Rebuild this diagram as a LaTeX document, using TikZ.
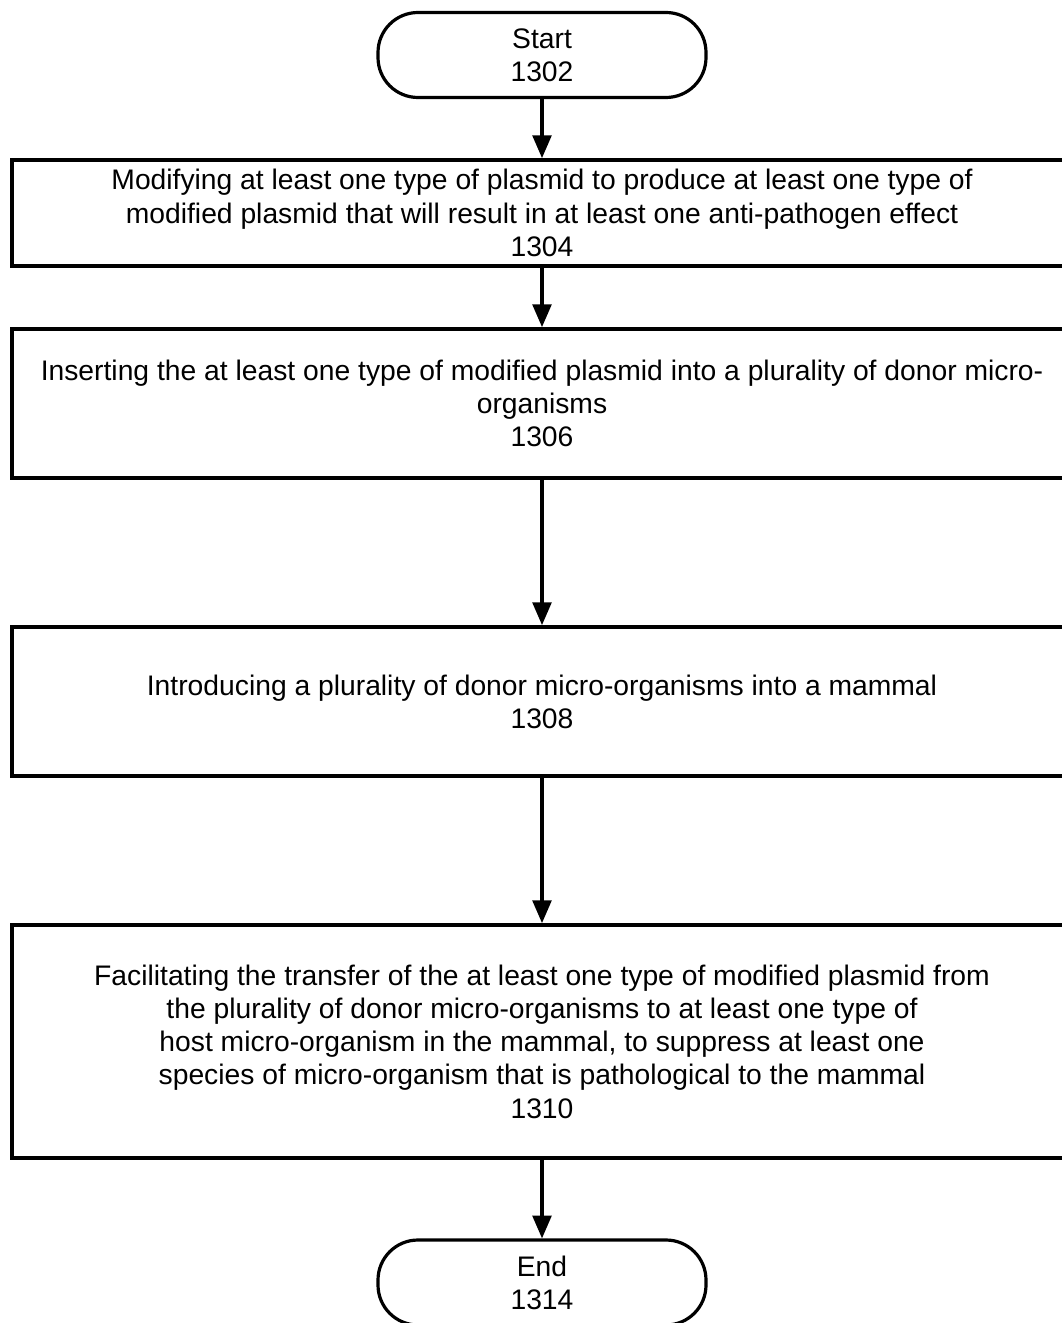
\documentclass[tikz,border=0pt]{standalone}
\usepackage{fontspec}
\setmainfont{Liberation Sans}
\usetikzlibrary{arrows.meta}
\begin{document}
\begin{tikzpicture}[x=0.75pt,y=-0.75pt,
  every node/.style={font=\fontsize{21.2}{24.9}\selectfont, align=center, inner sep=0pt},
  stepbox/.style={draw, line width=2.8pt, minimum width=795pt},
  terminal/.style={draw, line width=2.4pt, rounded corners=30pt, minimum width=246pt, minimum height=63.75pt},
  flow/.style={line width=2.4pt, -{Triangle[length=17pt,width=14pt]}}]
\useasboundingbox (0,0) rectangle (1062,1323);
\clip (0,0) rectangle (1062,1323);
\node[terminal] (start) at (542,55) {Start\\1302};
\node[stepbox, minimum height=79.5pt] (b1) at (542,213)
  {Modifying at least one type of plasmid to produce at least one type of\\
   modified plasmid that will result in at least one anti-pathogen effect\\1304};
\node[stepbox, minimum height=111.75pt] (b2) at (542,403.5)
  {Inserting the at least one type of modified plasmid into a plurality of donor micro-\\
   organisms\\1306};
\node[stepbox, minimum height=111.75pt] (b3) at (542,701.5)
  {Introducing a plurality of donor micro-organisms into a mammal\\1308};
\node[stepbox, minimum height=174.75pt] (b4) at (542,1041.5)
  {Facilitating the transfer of the at least one type of modified plasmid from\\
   the plurality of donor micro-organisms to at least one type of\\
   host micro-organism in the mammal, to suppress at least one\\
   species of micro-organism that is pathological to the mammal\\1310};
\node[terminal] (end) at (542,1282.5) {End\\1314};
\draw[flow] (start) -- (b1);
\draw[flow] (b1) -- (b2);
\draw[flow] (b2) -- (b3);
\draw[flow] (b3) -- (b4);
\draw[flow] (b4) -- (end);
\end{tikzpicture}
\end{document}
